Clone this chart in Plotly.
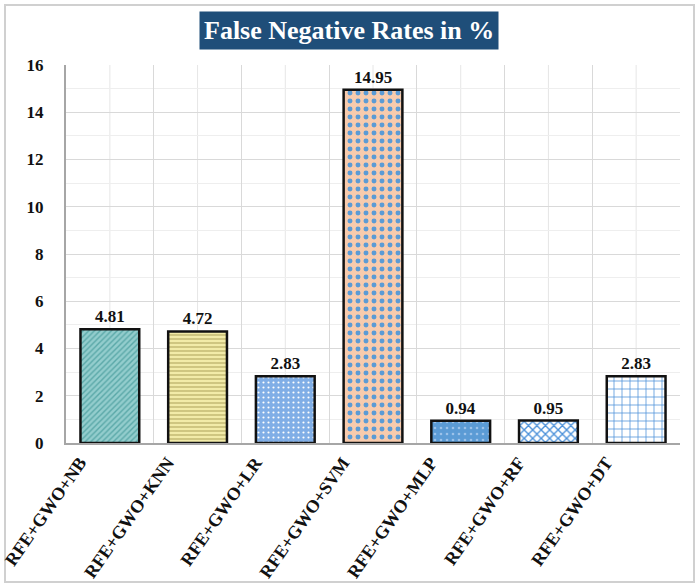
import plotly.graph_objects as go

categories = ["RFE+GWO+NB", "RFE+GWO+KNN", "RFE+GWO+LR", "RFE+GWO+SVM",
              "RFE+GWO+MLP", "RFE+GWO+RF", "RFE+GWO+DT"]
values = [4.81, 4.72, 2.83, 14.95, 0.94, 0.95, 2.83]
y_ticks = [0, 2, 4, 6, 8, 10, 12, 14, 16]

bg_colors = ["#93CDCD", "#F2EBA8", "#80AEE6", "#F8CBAD", "#5B9BD5", "#FFFFFF", "#FFFFFF"]
fg_colors = ["#5AA8A8", "#B8AE66", "#FFFFFF", "#5B9BD5", "#9CC2EA", "#4A90D9", "#4A90D9"]
shapes_pat = ["/", "-", ".", ".", ".", "x", "+"]
sizes = [4, 4, 5, 8, 6, 6, 8]
solid = [0.35, 0.3, 0.15, 0.3, 0.15, 0.4, 0.18]

serif = "Liberation Serif, Times New Roman, serif"

fig = go.Figure()
fig.add_trace(go.Bar(
    x=categories, y=values, width=0.67,
    marker=dict(
        color="#FFFFFF",
        line=dict(color="#111111", width=2.5),
        pattern=dict(shape=shapes_pat, fgcolor=fg_colors, bgcolor=bg_colors, fgopacity=1,
                     size=sizes, solidity=solid, fillmode="replace"),
    ),
    texttemplate="<b>%{y:.2f}</b>", textposition="outside", cliponaxis=False,
    textfont=dict(family=serif, size=17, color="#111111"),
    hoverinfo="skip",
))

shapes = []
# minor vertical gridlines at category centres
for c in categories:
    shapes.append(dict(type="line", xref="x", yref="paper", x0=c, x1=c, y0=0, y1=1,
                       line=dict(color="#E6E6E6", width=1), layer="below"))
# outer frame
shapes.append(dict(type="rect", xref="paper", yref="paper",
                   x0=(5 - 66) / 614, x1=(694 - 66) / 614,
                   y0=(443 - 582) / 378, y1=(443 - 5) / 378,
                   line=dict(color="#D0D0D0", width=2), layer="below"))

fig.update_layout(
    width=700, height=588,
    margin=dict(l=66, r=20, t=65, b=145),
    paper_bgcolor="white", plot_bgcolor="white",
    showlegend=False, bargap=0.33,
    shapes=shapes,
    annotations=[dict(
        text="<b>False Negative Rates in %</b>", xref="paper", yref="paper",
        x=(349 - 66) / 614, y=(443 - 30) / 378, xanchor="center", yanchor="middle",
        showarrow=False, bgcolor="#1F4E79", borderpad=4,
        font=dict(family=serif, size=26, color="white"),
    )],
)
fig.update_xaxes(
    type="category", tickson="boundaries", showgrid=True, gridcolor="#D9D9D9", gridwidth=1,
    showline=True, linecolor="#A6A6A6", linewidth=2, ticks="",
    tickvals=categories, ticktext=["<b>" + c + "</b>" for c in categories],
    tickangle=-55, ticklabelshift=-30, automargin=False,
    tickfont=dict(family=serif, size=18, color="#111111"),
)
fig.update_yaxes(
    range=[0, 16], tickvals=y_ticks, ticktext=["<b>%d</b>" % v for v in y_ticks],
    showgrid=True, gridcolor="#D9D9D9", gridwidth=1,
    minor=dict(dtick=1, showgrid=True, gridcolor="#EEEEEE"),
    showline=True, linecolor="#A6A6A6", linewidth=2, ticks="", zeroline=False,
    ticklabelstandoff=17, automargin=False,
    tickfont=dict(family=serif, size=17, color="#111111"),
)
fig.write_html("out.html", config={"displayModeBar": False},
               post_script="document.body.style.margin='0';document.body.style.overflow='hidden';")
